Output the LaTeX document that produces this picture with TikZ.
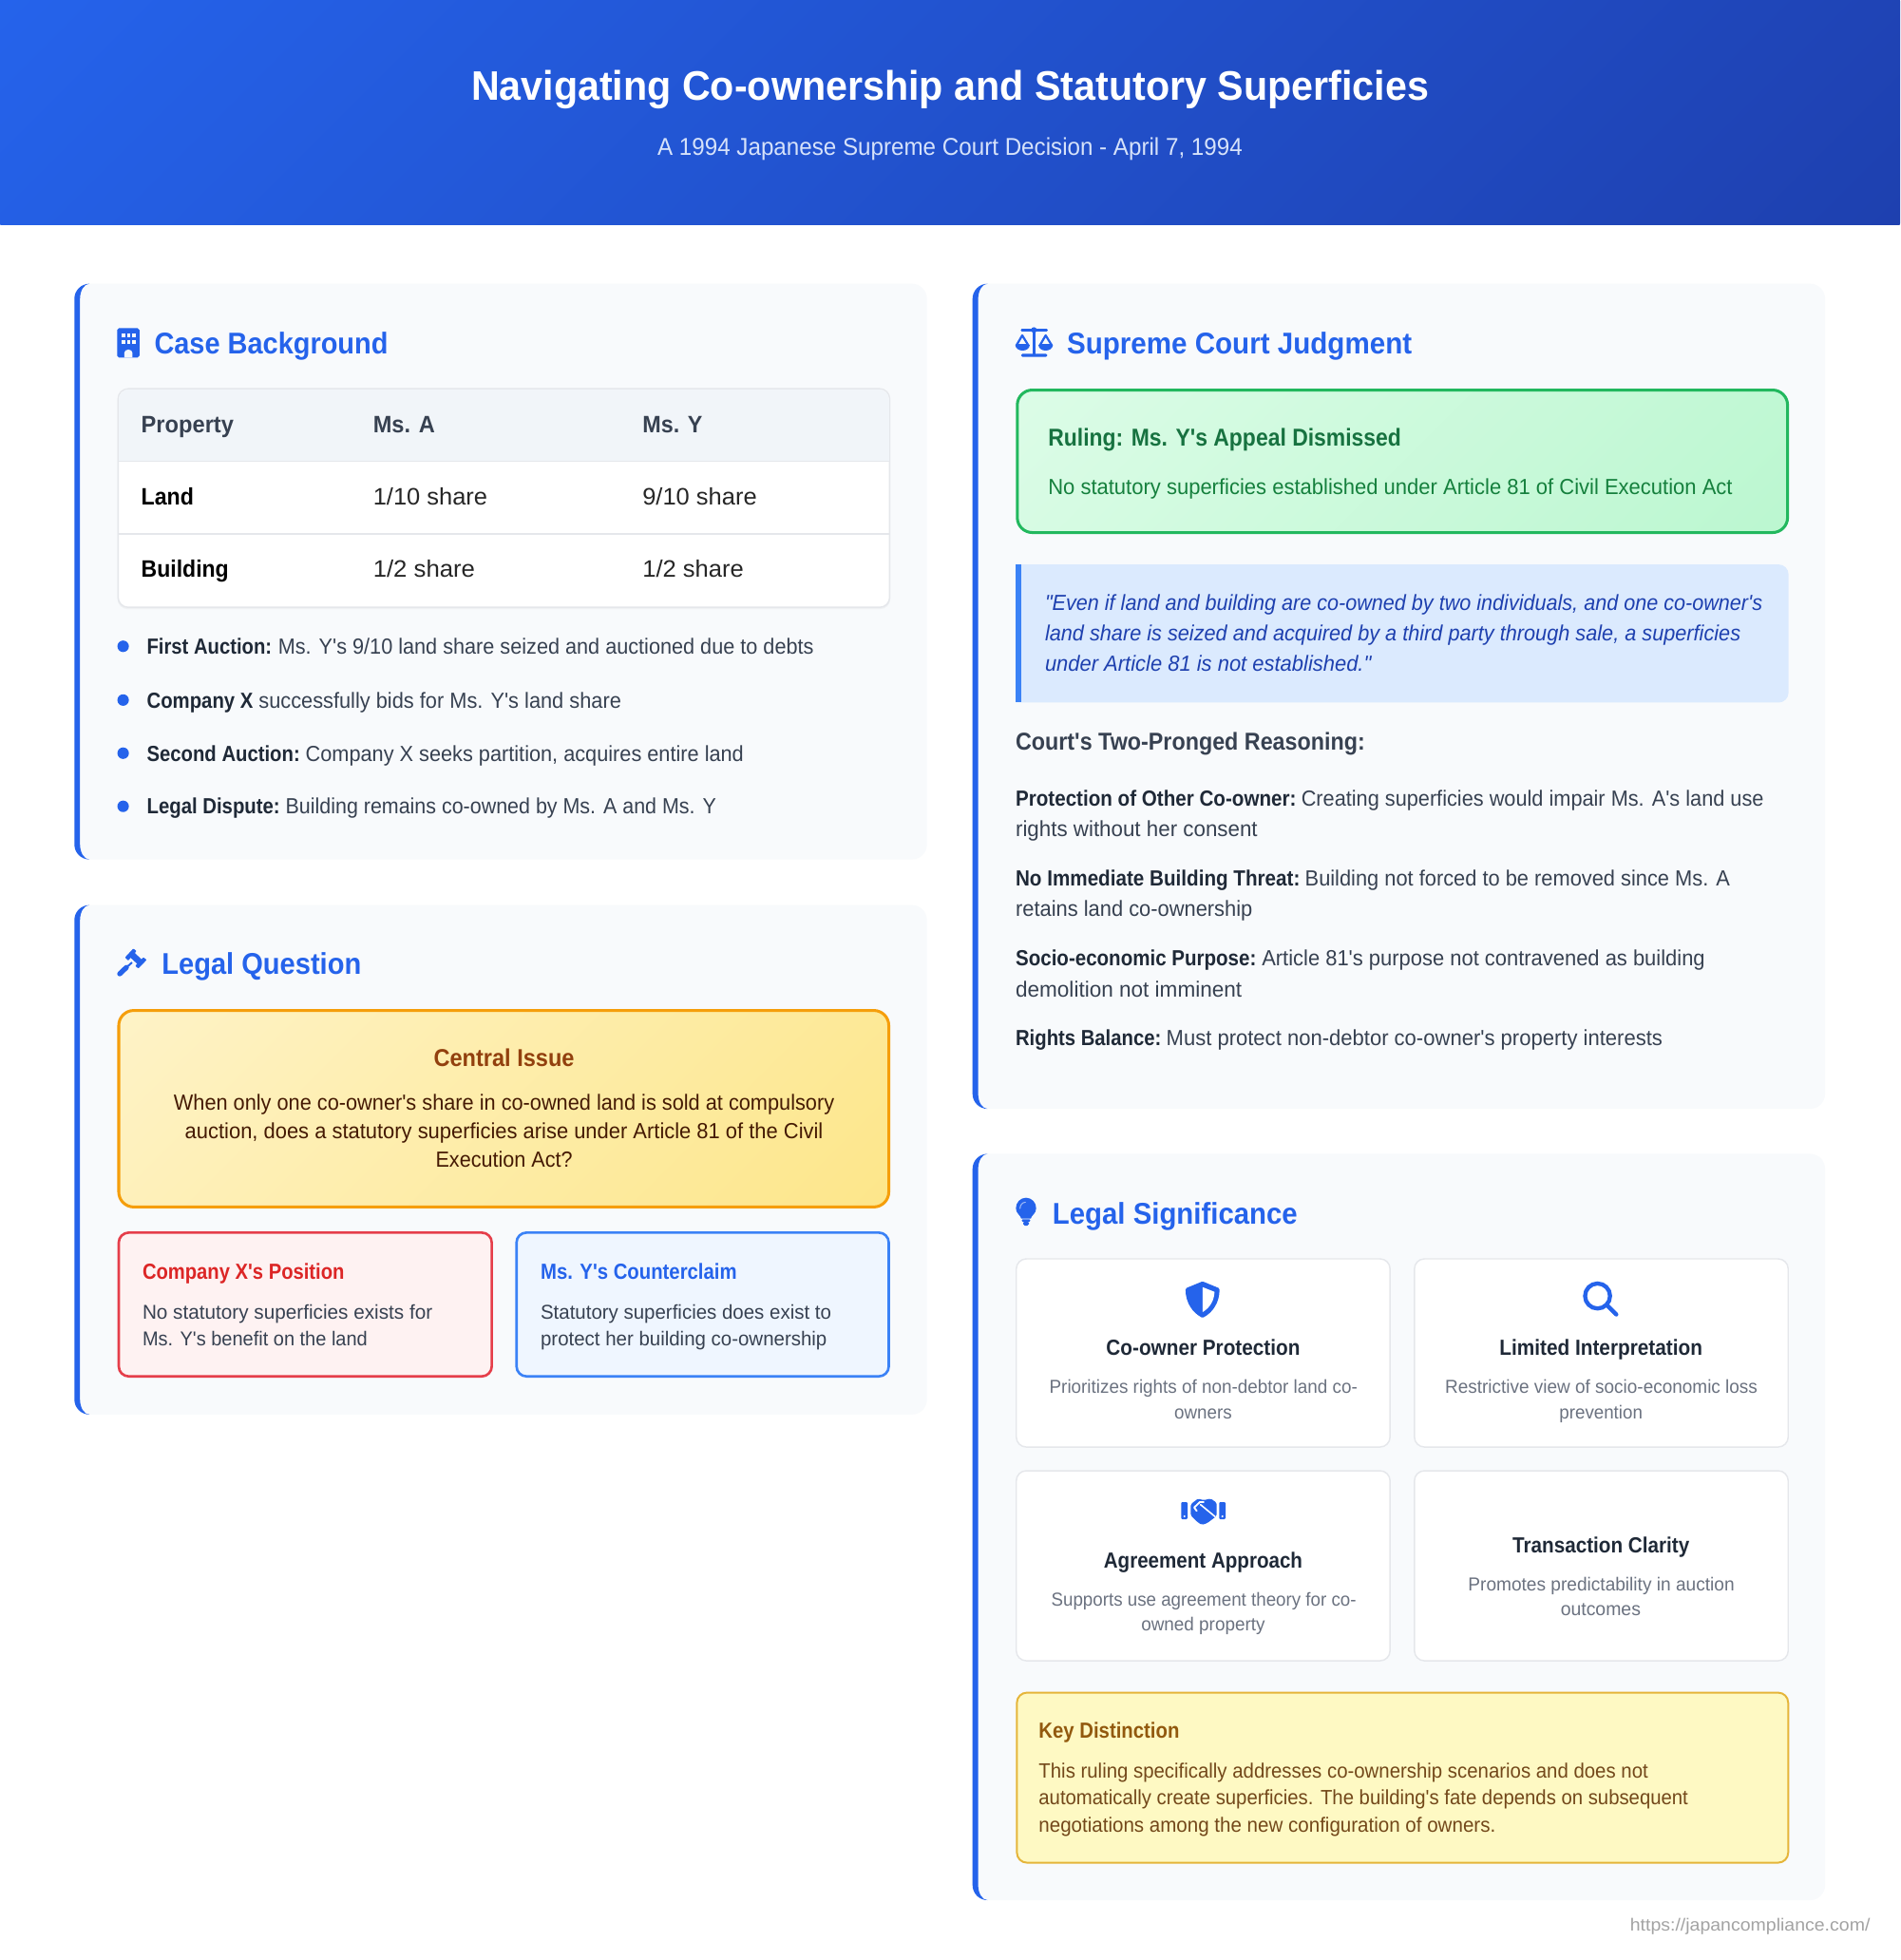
\documentclass[tikz,border=0pt]{standalone}
\usepackage{fontspec}
\usepackage{graphicx}
\newfontfamily\rf{Liberation Sans}
\definecolor{cardbg}{HTML}{F8FAFC}
\definecolor{bluemain}{HTML}{2563EB}
\definecolor{bluebar}{HTML}{3B82F6}
\definecolor{hdA}{HTML}{2563EB}
\definecolor{hdB}{HTML}{1E40AF}
\definecolor{subw}{HTML}{D6E2FA}
\definecolor{ink}{HTML}{374151}
\definecolor{inkd}{HTML}{1F2937}
\definecolor{mute}{HTML}{6B7280}
\definecolor{rule}{HTML}{E5E7EB}
\definecolor{thbg}{HTML}{F1F5F9}
\definecolor{amS}{HTML}{F59E0B}
\definecolor{amA}{HTML}{FEF3C7}
\definecolor{amB}{HTML}{FDE68A}
\definecolor{amT}{HTML}{92400E}
\definecolor{amD}{HTML}{451A03}
\definecolor{redS}{HTML}{E53E4A}
\definecolor{redF}{HTML}{FEF2F2}
\definecolor{redT}{HTML}{DC2626}
\definecolor{bluF}{HTML}{EFF6FF}
\definecolor{grS}{HTML}{22B85E}
\definecolor{grA}{HTML}{DCFCE7}
\definecolor{grB}{HTML}{BBF7D0}
\definecolor{grT}{HTML}{177240}
\definecolor{grD}{HTML}{15803D}
\definecolor{quF}{HTML}{DBEAFE}
\definecolor{quT}{HTML}{1E40AF}
\definecolor{keyS}{HTML}{E5B53A}
\definecolor{keyF}{HTML}{FEF9C3}
\definecolor{keyT}{HTML}{92590E}
\definecolor{keyD}{HTML}{73481A}
\definecolor{foot}{HTML}{A3A3A3}
\newsavebox\tbox
\newcounter{tn}
% x1, x2, y of the text centre, size, colour, text
\newcommand\Tx[6]{\stepcounter{tn}%
  \node[inner sep=0pt,outer sep=0pt,anchor=base west] (t\arabic{tn}) at ({#1},{#3+0.36*#4})
  {\sbox\tbox{\rf\fontsize{#4}{#4}\selectfont\color{#5}#6}%
   \pgfmathsetmacro\rr{(#2-#1)/\the\wd\tbox}%
   \scalebox{\rr}[1]{\usebox\tbox}};}
\newcommand\CardBox[4]{%
  \fill[cardbg,rounded corners=12pt] (#1,#2) rectangle (#3,#4);
  \fill[bluemain] ({#1+12},#2) .. controls ({#1+5.37},#2) and (#1,{#2+5.37}) .. (#1,{#2+12})
    -- (#1,{#4-12}) .. controls (#1,{#4-5.37}) and ({#1+5.37},#4) .. ({#1+12},#4)
    .. controls ({#1+7.86},#4) and ({#1+4.5},{#4-5.37}) .. ({#1+4.5},{#4-12})
    -- ({#1+4.5},{#2+12}) .. controls ({#1+4.5},{#2+5.37}) and ({#1+7.86},#2) .. ({#1+12},#2) -- cycle;}
% x1 y1 x2 y2 colourA colourB stroke radius stroke-width
\newcommand\GradBox[9]{%
  \pgfmathsetmacro\cx{(#1+#3)/2}\pgfmathsetmacro\cy{(#2+#4)/2}%
  \pgfmathsetmacro\hl{((#3-#1)+(#4-#2))*0.35355}%
  \begin{scope}
    \clip[rounded corners=#8pt] (#1,#2) rectangle (#3,#4);
    \shade[left color=#5,right color=#6,transform canvas={rotate around={-45:(\cx,\cy)}}]
      ({\cx-\hl},{\cy-\hl}) rectangle ({\cx+\hl},{\cy+\hl});
  \end{scope}
  \ifx#7\relax\else\draw[#7,line width=#9pt,rounded corners=#8pt] (#1,#2) rectangle (#3,#4);\fi}
\begin{document}
\begin{tikzpicture}[x=1pt,y=-1pt,
  plainbox/.style={line width=2pt,rounded corners=8pt},
  tile/.style={fill=white,draw=rule,line width=1.1pt,rounded corners=8pt},
  zoomed/.style={x=0.2533pt,y=-0.2533pt}]
\useasboundingbox (0,0) rectangle (1520,1567.88);
\fill[white] (0,0) rectangle (1520,1567.88);
% header
\GradBox{0}{0}{1520}{179.5}{hdA}{hdB}{\relax}{0}{0}
\Tx{377}{1143}{68}{33}{white}{\bfseries Navigating Co-ownership and Statutory Superficies}
\Tx{526}{994}{117}{19.5}{subw}{A 1994 Japanese Supreme Court Decision - April 7, 1994}
% cards
\CardBox{59.5}{227}{741.5}{687.5}
\CardBox{59.5}{724}{741.5}{1131.5}
\CardBox{778}{227}{1460}{887}
\CardBox{778}{923}{1460}{1520}
% ---- Case background
\fill[bluemain,rounded corners=1.5pt] (93.7,262.5) rectangle (111.6,286);
\foreach \wx in {98.8,102.9,106.9}\foreach \wy in {268.3,273.4}
  \fill[cardbg] ({\wx-1.4},{\wy-1.4}) rectangle ({\wx+1.4},{\wy+1.4});
\fill[cardbg] (99.4,286) -- (99.4,282.5) .. controls (99.4,280.8) and (100.8,279.6) .. (102.7,279.6)
  .. controls (104.6,279.6) and (106,280.8) .. (106,282.5) -- (106,286) -- cycle;
\Tx{123.5}{310.5}{274.4}{24}{bluemain}{\bfseries Case Background}
% table
\fill[rule!60,rounded corners=8pt] (94,312) rectangle (712.2,487.2);
\draw[tile] (94.5,311) rectangle (711.7,485.8);
\begin{scope}
  \clip[rounded corners=8pt] (95,311.5) rectangle (711.2,485.3);
  \fill[thbg] (94,311) rectangle (712.5,369);
  \draw[rule,line width=1.1pt] (94,369) -- (712.5,369);
  \draw[rule,line width=1.1pt] (94,427) -- (712.5,427);
\end{scope}
\Tx{113}{187}{339}{19}{ink}{\bfseries Property}
\Tx{298.5}{348}{339}{19}{ink}{\bfseries Ms. A}
\Tx{514}{562}{339}{19}{ink}{\bfseries Ms. Y}
\Tx{113}{155}{397}{19}{black}{\bfseries Land}
\Tx{298.5}{390}{397}{19}{black!85}{1/10 share}
\Tx{514}{605.5}{397}{19}{black!85}{9/10 share}
\Tx{113}{183}{455}{19}{black}{\bfseries Building}
\Tx{298.5}{380}{455}{19}{black!85}{1/2 share}
\Tx{514}{595}{455}{19}{black!85}{1/2 share}
% bullets
\foreach \by in {517,560,602.5,645} \fill[bluemain] (98.5,\by) circle (4.6);
\Tx{117.5}{217.5}{517}{17.5}{inkd}{\bfseries First Auction:}
\Tx{222.5}{651}{517}{17.5}{ink}{Ms. Y's 9/10 land share seized and auctioned due to debts}
\Tx{117.5}{202.5}{560}{17.5}{inkd}{\bfseries Company X}
\Tx{207}{497}{560}{17.5}{ink}{successfully bids for Ms. Y's land share}
\Tx{117.5}{240}{602.5}{17.5}{inkd}{\bfseries Second Auction:}
\Tx{244.5}{595}{602.5}{17.5}{ink}{Company X seeks partition, acquires entire land}
\Tx{117.5}{224}{645}{17.5}{inkd}{\bfseries Legal Dispute:}
\Tx{228.5}{573}{645}{17.5}{ink}{Building remains co-owned by Ms. A and Ms. Y}
% ---- Legal question: gavel
\begin{scope}[shift={(87.4,748.6)},zoomed]
  \fill[bluemain,rounded corners=0.5pt] (50,68) -- (76,40) -- (86,48) -- (60,78) -- cycle;
  \fill[bluemain,rounded corners=0.5pt] (108,68) -- (118,76) -- (92,103) -- (82,95) -- cycle;
  \fill[bluemain] (63,65) -- (76,50) -- (106,78) -- (92,92) -- cycle;
  \draw[bluemain,line width=4.05pt,line cap=round] (33,120) -- (54,100);
  \draw[bluemain,line width=1.5pt] (54,100) -- (72,84);
\end{scope}
\Tx{129.5}{289}{770.5}{24}{bluemain}{\bfseries Legal Question}
\GradBox{95}{808.3}{711}{965.5}{amA}{amB}{amS}{12}{2.3}
\Tx{347}{459.5}{846}{19.5}{amT}{\bfseries Central Issue}
\Tx{139}{667.5}{882}{17.5}{amD}{When only one co-owner's share in co-owned land is sold at compulsory}
\Tx{148}{658.5}{904.5}{17.5}{amD}{auction, does a statutory superficies arise under Article 81 of the Civil}
\Tx{348.5}{458}{927}{17.5}{amD}{Execution Act?}
\draw[plainbox,draw=redS,fill=redF] (95,986) rectangle (393.4,1101);
\Tx{114}{275.5}{1017}{17.5}{redT}{\bfseries Company X's Position}
\Tx{114}{346}{1049.5}{16}{ink}{No statutory superficies exists for}
\Tx{114}{294}{1071}{16}{ink}{Ms. Y's benefit on the land}
\draw[plainbox,draw=bluebar,fill=bluF] (413.2,986) rectangle (711,1101);
\Tx{432.5}{589.5}{1017}{17.5}{bluemain}{\bfseries Ms. Y's Counterclaim}
\Tx{432.5}{665}{1049.5}{16}{ink}{Statutory superficies does exist to}
\Tx{432.5}{661.5}{1071}{16}{ink}{protect her building co-ownership}
% ---- Judgment: scales
\begin{scope}[shift={(805.6,254.6)},zoomed]
  \draw[bluemain,line width=2pt,line cap=round] (47,38) -- (125,38);
  \fill[bluemain] (85,37) circle (9);
  \fill[bluemain] (80,38) rectangle (90,115);
  \fill[bluemain,rounded corners=1pt] (45,112) rectangle (127,122);
  \draw[bluemain,line width=1.7pt,line join=round] (48,54) -- (30,85) -- (67,85) -- cycle;
  \draw[bluemain,line width=1.7pt,line join=round] (122,54) -- (104,85) -- (141,85) -- cycle;
  \fill[bluemain] (26,84) .. controls (28,108) and (70,108) .. (72,84) -- cycle;
  \fill[bluemain] (99,84) .. controls (101,108) and (143,108) .. (145,84) -- cycle;
\end{scope}
\Tx{853.5}{1129.5}{274.4}{24}{bluemain}{\bfseries Supreme Court Judgment}
\GradBox{813.8}{312}{1430}{426}{grA}{grB}{grS}{12}{2.3}
\Tx{838.5}{1121}{350}{19.5}{grT}{\bfseries Ruling: Ms. Y's Appeal Dismissed}
\Tx{838.5}{1386}{389}{17.5}{grD}{No statutory superficies established under Article 81 of Civil Execution Act}
\fill[quF,rounded corners=8pt] (805,451.5) rectangle (1430.8,562);
\fill[cardbg] (800,448) rectangle (812.5,566);
\fill[bluebar] (812.5,451.5) rectangle (817.2,562);
\Tx{836}{1410}{482}{17.5}{quT}{\itshape "Even if land and building are co-owned by two individuals, and one co-owner's}
\Tx{836}{1392.5}{506.5}{17.5}{quT}{\itshape land share is seized and acquired by a third party through sale, a superficies}
\Tx{836}{1097}{531}{17.5}{quT}{\itshape under Article 81 is not established."}
\Tx{812.5}{1092}{593}{19.5}{ink}{\bfseries Court's Two-Pronged Reasoning:}
\Tx{812.5}{1037}{638.2}{17.5}{inkd}{\bfseries Protection of Other Co-owner:}
\Tx{1041}{1411}{638.2}{17.5}{ink}{Creating superficies would impair Ms. A's land use}
\Tx{812.5}{1006}{663}{17.5}{ink}{rights without her consent}
\Tx{812.5}{1040}{702.2}{17.5}{inkd}{\bfseries No Immediate Building Threat:}
\Tx{1044}{1384}{702.2}{17.5}{ink}{Building not forced to be removed since Ms. A}
\Tx{812.5}{1002}{727}{17.5}{ink}{retains land co-ownership}
\Tx{812.5}{1005}{766.2}{17.5}{inkd}{\bfseries Socio-economic Purpose:}
\Tx{1009.5}{1364}{766.2}{17.5}{ink}{Article 81's purpose not contravened as building}
\Tx{812.5}{993.5}{791}{17.5}{ink}{demolition not imminent}
\Tx{812.5}{929}{830.2}{17.5}{inkd}{\bfseries Rights Balance:}
\Tx{933}{1330}{830.2}{17.5}{ink}{Must protect non-debtor co-owner's property interests}
% ---- Significance: bulb
\begin{scope}[shift={(805.6,950)},zoomed]
  \fill[bluemain] (45,98) .. controls (42,86) and (28,82) .. (28,65)
    .. controls (28,47) and (42,32) .. (60,32)
    .. controls (78,32) and (92,47) .. (92,65)
    .. controls (92,82) and (78,86) .. (75,98) -- cycle;
  \draw[white!55!bluemain,line width=0.8pt,line cap=round] (41,66) .. controls (41,55) and (48,47) .. (58,46);
  \fill[bluemain,rounded corners=0.7pt] (47,100) rectangle (73,108);
  \fill[bluemain,rounded corners=1.3pt] (51,106) rectangle (69,120);
\end{scope}
\Tx{842}{1038}{970.4}{24}{bluemain}{\bfseries Legal Significance}
\draw[tile] (813,1007) rectangle (1112,1157.5);
\draw[tile] (1131.5,1007) rectangle (1430.5,1157.5);
\draw[tile] (813,1176.5) rectangle (1112,1328.5);
\draw[tile] (1131.5,1176.5) rectangle (1430.5,1328.5);
% shield
\fill[bluemain,rounded corners=1pt] (962,1025) -- (975.6,1030.6) .. controls (975.6,1042) and (970,1050) .. (962,1054.2)
  .. controls (954,1050) and (948.4,1042) .. (948.4,1030.6) -- cycle;
\fill[white] (962,1029.6) -- (971.6,1033.4) .. controls (971.2,1040.5) and (968,1046) .. (962,1049.6) -- cycle;
\Tx{885}{1040}{1077.7}{17.5}{inkd}{\bfseries Co-owner Protection}
\Tx{839.5}{1086}{1109.5}{15}{mute}{Prioritizes rights of non-debtor land co-}
\Tx{939.5}{985.5}{1129.5}{15}{mute}{owners}
% magnifier
\draw[bluemain,line width=3.3pt] (1278,1036.7) circle (10);
\draw[bluemain,line width=3.3pt,line cap=round] (1285.5,1044) -- (1293,1051.5);
\Tx{1199.5}{1362}{1077.7}{17.5}{inkd}{\bfseries Limited Interpretation}
\Tx{1156}{1406}{1109.5}{15}{mute}{Restrictive view of socio-economic loss}
\Tx{1247.5}{1314}{1129.5}{15}{mute}{prevention}
% handshake
\begin{scope}[shift={(938.6,1189.4)},zoomed]
  \fill[bluemain,rounded corners=0.8pt] (25,48) rectangle (45,102);
  \fill[bluemain,rounded corners=0.8pt] (145,48) rectangle (165,102);
  \fill[white] (35,93) circle (3.5);
  \fill[white] (155,93) circle (3.5);
  \fill[bluemain,rounded corners=1.2pt] (55,55) -- (78,37) -- (96,42) -- (118,37) -- (137,50) -- (137,92)
    -- (118,106) -- (108,114) -- (90,120) -- (75,110) -- (55,90) -- cycle;
  \draw[white,line width=1.4pt,line join=round,line cap=round] (74,76) -- (66,65) -- (84,48) -- (96,48);
  \draw[white,line width=1.2pt,line cap=round] (86,56) -- (132,94);
\end{scope}
\Tx{883}{1042}{1247.7}{17.5}{inkd}{\bfseries Agreement Approach}
\Tx{841}{1085}{1279.5}{15}{mute}{Supports use agreement theory for co-}
\Tx{913}{1012}{1299.5}{15}{mute}{owned property}
\Tx{1210}{1351.5}{1235.7}{17.5}{inkd}{\bfseries Transaction Clarity}
\Tx{1174.5}{1387.5}{1267}{15}{mute}{Promotes predictability in auction}
\Tx{1248.5}{1312.5}{1287}{15}{mute}{outcomes}
% key
\draw[draw=keyS,fill=keyF,line width=1.5pt,rounded corners=8pt] (813.5,1354) rectangle (1430.5,1490);
\Tx{831}{943.5}{1384}{17.5}{keyT}{\bfseries Key Distinction}
\Tx{831}{1318.5}{1416.5}{16.5}{keyD}{This ruling specifically addresses co-ownership scenarios and does not}
\Tx{831}{1350.5}{1438}{16.5}{keyD}{automatically create superficies. The building's fate depends on subsequent}
\Tx{831}{1196.5}{1459.5}{16.5}{keyD}{negotiations among the new configuration of owners.}
\Tx{1304}{1496}{1540}{14}{foot}{https://japancompliance.com/}
\end{tikzpicture}
\end{document}
